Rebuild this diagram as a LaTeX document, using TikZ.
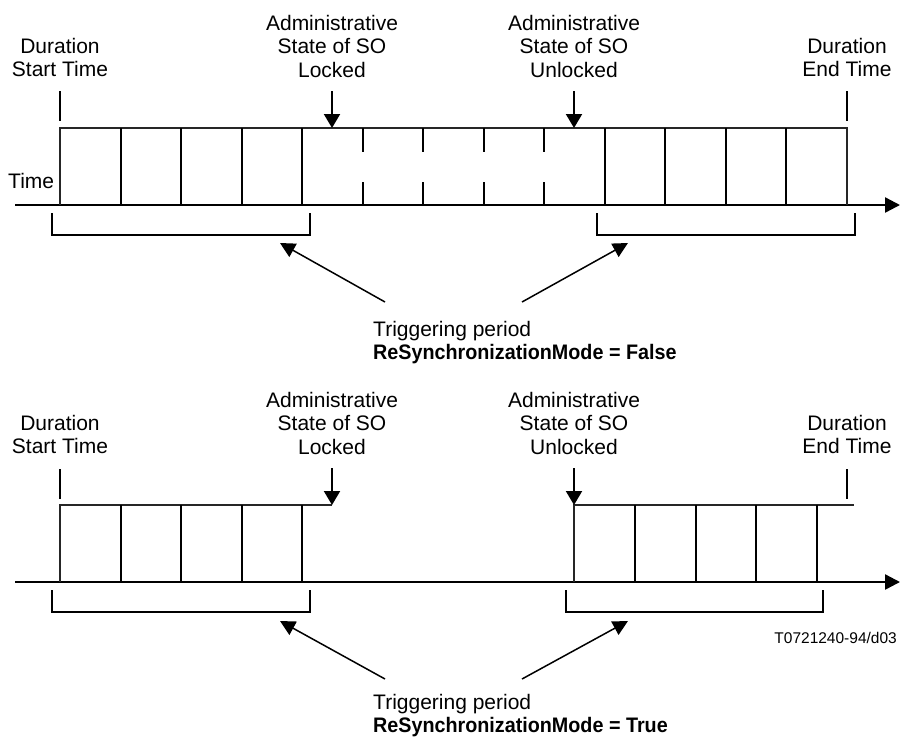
\documentclass[tikz,border=0pt]{standalone}
\usepackage{fontspec}
\setmainfont{Liberation Sans}
\usepackage{graphicx}
\usetikzlibrary{arrows.meta}
\begin{document}
\begin{tikzpicture}[x=1pt,y=-1pt,
  every node/.style={inner sep=0pt,font=\fontsize{21pt}{23.5pt}\selectfont},
  axisline/.style={line width=2.4pt,-{Triangle[length=15pt,width=15pt]}},
  thickline/.style={line width=2pt},
  thinline/.style={line width=1.2pt,black!85},
  tickline/.style={line width=2pt},
  bracketline/.style={line width=1.5pt},
  eventarrow/.style={line width=2pt,-{Triangle[length=14pt,width=16pt]}},
  pointer/.style={line width=1.5pt,-{Triangle[length=15pt,width=15pt]}},
  lbl/.style={align=center,anchor=north},
  trig/.style={align=left,anchor=north west}]
\useasboundingbox (0,0) rectangle (901,740);

% ---------------- top diagram ----------------
\coordinate (tA0) at (15,205); \coordinate (tA1) at (900,205);
\draw[axisline] (tA0) -- (tA1);
\node[anchor=base west] (tTime) at (8,188) {Time};
% box outline
\coordinate (tTL) at (60,128); \coordinate (tTR) at (847,128);
\coordinate (tBL) at (60,205); \coordinate (tBR) at (847,205);
\draw[thinline] (tBL) -- (tTL) -- (tTR) -- (tBR);
\foreach \x in {121,181,242,302,605,665,726,786}
  \draw[thickline] (\x,128) -- (\x,205);
\foreach \x in {363,423,484,544}{
  \draw[thickline] (\x,128) -- (\x,152);
  \draw[thickline] (\x,182) -- (\x,205);}
% ticks and event arrows
\coordinate (tS0) at (60,91); \coordinate (tS1) at (60,121);
\coordinate (tE0) at (847,91); \coordinate (tE1) at (847,121);
\draw[tickline] (tS0) -- (tS1);
\draw[tickline] (tE0) -- (tE1);
\coordinate (tL0) at (332,91); \coordinate (tL1) at (332,128);
\coordinate (tU0) at (574,91); \coordinate (tU1) at (574,128);
\draw[eventarrow] (tL0) -- (tL1);
\draw[eventarrow] (tU0) -- (tU1);
% labels
\node[lbl] (tStart) at (60,38) {Duration\\Start Time};
\node[lbl] (tLock) at (332,15) {Administrative\\State of SO\\Locked};
\node[lbl] (tUnlock) at (574,15) {Administrative\\State of SO\\Unlocked};
\node[lbl] (tEnd) at (847,38) {Duration\\End Time};
% brackets
\draw[bracketline] (52,213) -- (52,235) -- (310,235) -- (310,213);
\draw[bracketline] (597,213) -- (597,235) -- (855,235) -- (855,213);
% pointers
\node[trig] (tTrig) at (373,321) {Triggering period\\\textbf{\scalebox{0.94}[1]{ReSynchronizationMode = False}}};
\coordinate (tP1) at (385,302); \coordinate (tQ1) at (280,243);
\coordinate (tP2) at (522,302); \coordinate (tQ2) at (628,243);
\draw[pointer] (tP1) -- (tQ1);
\draw[pointer] (tP2) -- (tQ2);

% ---------------- bottom diagram ----------------
\begin{scope}[yshift=-377pt]
\coordinate (bA0) at (15,205); \coordinate (bA1) at (900,205);
\draw[axisline] (bA0) -- (bA1);
\coordinate (bTL) at (60,128); \coordinate (bBL) at (60,205); \coordinate (bLk) at (332,128);
\draw[thinline] (bBL) -- (bTL) -- (bLk);
\coordinate (bUT) at (574,128); \coordinate (bUB) at (574,205); \coordinate (bRT) at (854,128);
\draw[thinline] (bUB) -- (bUT) -- (bRT);
\foreach \x in {121,181,242,302,635,696,756,817}
  \draw[thickline] (\x,128) -- (\x,205);
\coordinate (bS0) at (60,92); \coordinate (bS1) at (60,122);
\coordinate (bE0) at (847,92); \coordinate (bE1) at (847,122);
\draw[tickline] (bS0) -- (bS1);
\draw[tickline] (bE0) -- (bE1);
\coordinate (bL0) at (332,91); \coordinate (bL1) at (332,128);
\coordinate (bU0) at (574,91); \coordinate (bU1) at (574,128);
\draw[eventarrow] (bL0) -- (bL1);
\draw[eventarrow] (bU0) -- (bU1);
\node[lbl] (bStart) at (60,38) {Duration\\Start Time};
\node[lbl] (bLock) at (332,15) {Administrative\\State of SO\\Locked};
\node[lbl] (bUnlock) at (574,15) {Administrative\\State of SO\\Unlocked};
\node[lbl] (bEnd) at (847,38) {Duration\\End Time};
\draw[bracketline] (52,213) -- (52,235) -- (310,235) -- (310,213);
\draw[bracketline] (566,213) -- (566,235) -- (823,235) -- (823,213);
\node[trig] (bTrig) at (373,317) {Triggering period\\\textbf{\scalebox{0.94}[1]{ReSynchronizationMode = True}}};
\coordinate (bP1) at (385,302); \coordinate (bQ1) at (280,244);
\coordinate (bP2) at (522,302); \coordinate (bQ2) at (628,244);
\draw[pointer] (bP1) -- (bQ1);
\draw[pointer] (bP2) -- (bQ2);
\end{scope}

\node[anchor=base east,font=\fontsize{15.5pt}{18pt}\selectfont] (figid) at (897,643) {T0721240-94/d03};
\end{tikzpicture}
\end{document}
